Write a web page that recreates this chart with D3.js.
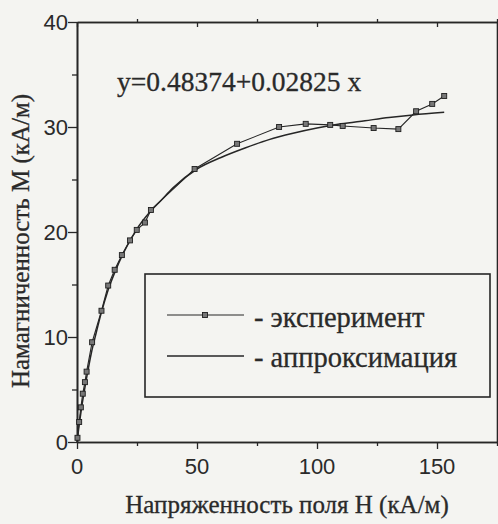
<!DOCTYPE html>
<html>
<head>
<meta charset="utf-8">
<script src="https://cdn.jsdelivr.net/npm/d3@7"></script>
<style>
  html, body { margin: 0; padding: 0; background: #f4f4f1; }
  svg { display: block; }
  .tick-num { font-family: 'Liberation Sans', Arial, sans-serif; font-size: 22px; fill: #2a2a2a; }
  .serif { font-family: 'Liberation Serif', 'Times New Roman', serif; fill: #2a2a2a; stroke: #2a2a2a; stroke-width: 0.3px; }
</style>
</head>
<body>
<div id="chart"></div>
<script>
// experimental points: H (kA/m), M (kA/m)
let expH = [0.2, 0.9, 1.6, 2.4, 3.3, 4.0, 6.3, 10.2, 13.0, 15.7, 18.7, 22.1, 24.9, 28.3, 30.8,
  49.0, 66.7, 84.2, 95.3, 105.5, 110.7, 123.6, 133.9, 141.3, 148.0, 153.0]
let expM = [0.4, 1.9, 3.3, 4.6, 5.7, 6.7, 9.5, 12.5, 14.9, 16.4, 17.8, 19.2, 20.2, 20.9, 22.1,
  26.0, 28.4, 30.0, 30.3, 30.2, 30.1, 29.9, 29.8, 31.5, 32.2, 32.95]
// approximation curve
let fitH = [0, 1, 2, 3, 4, 6, 8, 10, 13, 16, 20, 25, 30, 35, 40, 50, 60, 70, 80, 90, 100, 110, 120, 130, 140, 153]
let fitM = [0, 1.8, 3.4, 4.8, 6.1, 8.5, 10.4, 12.2, 14.5, 16.3, 18.3, 20.3, 21.8, 23.0, 24.2, 26.0, 27.1,
  28.0, 28.8, 29.4, 29.9, 30.3, 30.6, 30.9, 31.15, 31.4]

let xTicks = [0, 50, 100, 150]
let xMinor = [25, 75, 125, 175]
let yTicks = [0, 10, 20, 30, 40]
let yMinor = [5, 15, 25, 35]

let ink = '#262626'
let width = 498
let height = 524
let margin = { left: 77, top: 22, right: 1, bottom: 82 }

let svg = d3.select('#chart').append('svg')
  .attr('width', width)
  .attr('height', height)

let x = d3.scaleLinear().domain([0, 175]).range([margin.left, width - margin.right])
let y = d3.scaleLinear().domain([0, 40]).range([height - margin.bottom, margin.top])

let g = svg.append('g')

// frame axes
function styleAxis (sel) {
  sel.select('.domain').attr('stroke', ink).attr('stroke-width', 1.6)
  sel.selectAll('.tick line').attr('stroke', ink).attr('stroke-width', 1.3)
  sel.selectAll('.tick text').remove()
}

g.append('g').attr('transform', 'translate(0,' + y(0) + ')')
  .call(d3.axisBottom(x).tickValues(xTicks).tickSize(7).tickSizeOuter(0)).call(styleAxis)
g.append('g').attr('transform', 'translate(0,' + y(0) + ')')
  .call(d3.axisBottom(x).tickValues(xMinor).tickSize(4).tickSizeOuter(0)).call(styleAxis)
g.append('g').attr('transform', 'translate(0,' + y(40) + ')')
  .call(d3.axisBottom(x).tickValues(xTicks).tickSize(5).tickSizeOuter(0)).call(styleAxis)
g.append('g').attr('transform', 'translate(0,' + y(40) + ')')
  .call(d3.axisTop(x).tickValues(xMinor).tickSize(3).tickSizeOuter(0)).call(styleAxis)
g.append('g').attr('transform', 'translate(' + x(0) + ',0)')
  .call(d3.axisLeft(y).tickValues(yTicks).tickSize(9).tickSizeOuter(0)).call(styleAxis)
g.append('g').attr('transform', 'translate(' + x(0) + ',0)')
  .call(d3.axisLeft(y).tickValues(yMinor).tickSize(5).tickSizeOuter(0)).call(styleAxis)
g.append('g').attr('transform', 'translate(' + x(175) + ',0)')
  .call(d3.axisRight(y).tickValues(yTicks).tickSize(8).tickSizeOuter(0)).call(styleAxis)

// tick labels
g.selectAll('.xlab').data(xTicks).enter().append('text')
  .attr('class', 'tick-num')
  .attr('x', d => x(d))
  .attr('y', y(0) + 32)
  .attr('text-anchor', 'middle')
  .text(d => d)
g.selectAll('.ylab').data(yTicks).enter().append('text')
  .attr('class', 'tick-num')
  .attr('x', x(0) - 9)
  .attr('y', d => y(d) + 8)
  .attr('text-anchor', 'end')
  .text(d => d)

// axis titles
svg.append('text').attr('class', 'serif')
  .attr('x', 287).attr('y', 513)
  .attr('text-anchor', 'middle')
  .style('font-size', '25px')
  .text('Напряженность поля Н (кА/м)')
svg.append('text').attr('class', 'serif')
  .attr('transform', 'translate(29,241) rotate(-90)')
  .attr('text-anchor', 'middle')
  .style('font-size', '25px')
  .text('Намагниченность М (кА/м)')

// equation
svg.append('text').attr('class', 'serif')
  .attr('x', 117).attr('y', 91)
  .style('font-size', '27.5px')
  .text('y=0.48374+0.02825 x')

// curves
let fitData = fitH.map((h, i) => ({ h: h, m: fitM[ i ] }))
let expData = expH.map((h, i) => ({ h: h, m: expM[ i ] }))

let fitLine = d3.line().x(d => x(d.h)).y(d => y(d.m)).curve(d3.curveMonotoneX)
let expLine = d3.line().x(d => x(d.h)).y(d => y(d.m))

g.append('path').datum(fitData)
  .attr('d', fitLine)
  .attr('fill', 'none')
  .attr('stroke', ink)
  .attr('stroke-width', 1.5)

g.append('path').datum(expData)
  .attr('d', expLine)
  .attr('fill', 'none')
  .attr('stroke', ink)
  .attr('stroke-width', 1.1)

g.selectAll('.pt').data(expData).enter().append('rect')
  .attr('class', 'pt')
  .attr('x', d => x(d.h) - 2.5)
  .attr('y', d => y(d.m) - 2.5)
  .attr('width', 5)
  .attr('height', 5)
  .attr('fill', '#777')
  .attr('stroke', '#1e1e1e')
  .attr('stroke-width', 0.9)

// legend
let leg = svg.append('g')
leg.append('rect')
  .attr('x', 145).attr('y', 274)
  .attr('width', 345).attr('height', 123)
  .attr('fill', 'none')
  .attr('stroke', ink)
  .attr('stroke-width', 1.6)
leg.append('line')
  .attr('x1', 167).attr('x2', 244).attr('y1', 315).attr('y2', 315)
  .attr('stroke', ink).attr('stroke-width', 1.1)
leg.append('rect')
  .attr('x', 202.5).attr('y', 312.5).attr('width', 5).attr('height', 5)
  .attr('fill', '#777').attr('stroke', '#1e1e1e').attr('stroke-width', 0.9)
leg.append('line')
  .attr('x1', 167).attr('x2', 244).attr('y1', 356).attr('y2', 356)
  .attr('stroke', ink).attr('stroke-width', 1.5)
leg.append('text').attr('class', 'serif')
  .attr('x', 254).attr('y', 327)
  .style('font-size', '28.5px')
  .text('- эксперимент')
leg.append('text').attr('class', 'serif')
  .attr('x', 254).attr('y', 367)
  .style('font-size', '28.5px')
  .text('- аппроксимация')
</script>
</body>
</html>
